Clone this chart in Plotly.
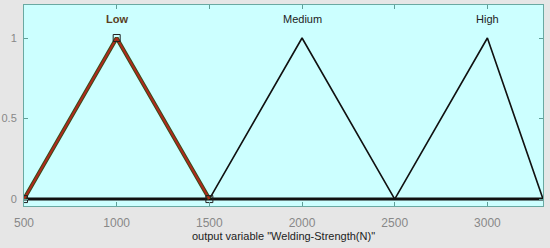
import plotly.graph_objects as go

# membership functions of output variable
mf_names = ["Low", "Medium", "High"]
low_x = [500, 1000, 1500]
low_y = [0, 1, 0]
medium_x = [1500, 2000, 2500]
medium_y = [0, 1, 0]
high_x = [2500, 3000, 3300]
high_y = [0, 1, 0]
x_ticks = [500, 1000, 1500, 2000, 2500, 3000]
y_ticks = [0, 0.5, 1]

fig = go.Figure()

# baseline
fig.add_trace(go.Scatter(x=[500, 3300], y=[0, 0], mode="lines",
                         line=dict(color="#111111", width=3), hoverinfo="skip"))

fig.add_trace(go.Scatter(x=medium_x, y=medium_y, mode="lines",
                         line=dict(color="#111111", width=1.6)))
fig.add_trace(go.Scatter(x=high_x, y=high_y, mode="lines",
                         line=dict(color="#111111", width=1.6)))

# selected MF (Low): dark outline + red core + square handles
fig.add_trace(go.Scatter(x=low_x, y=low_y, mode="lines",
                         line=dict(color="#3b4a1a", width=4)))
fig.add_trace(go.Scatter(x=low_x, y=low_y, mode="lines+markers",
                         line=dict(color="#b02a1c", width=2),
                         marker=dict(symbol="square-open", size=7, color="#222222",
                                     line=dict(width=1))))

# labels above peaks
peaks = [low_x[1], medium_x[1], high_x[1]]
label_colors = ["#5a3e1e", "#222222", "#222222"]
label_text = ["<b>Low</b>", "Medium", "High"]
for name, px, c in zip(label_text, peaks, label_colors):
    fig.add_annotation(x=px, y=1.12, text=name, showarrow=False,
                       font=dict(size=11, color=c, family="Arial"))

fig.update_layout(
    width=550, height=248,
    margin=dict(l=24, r=7, t=5, b=42),
    paper_bgcolor="#e6e6e6",
    plot_bgcolor="#ccffff",
    showlegend=False,
    font=dict(family="Arial", size=11, color="#888888"),
)
fig.update_xaxes(
    range=[500, 3300], tickvals=x_ticks, ticks="inside", ticklen=4,
    tickcolor="#5f9f98", showgrid=False, zeroline=False, automargin=False,
    showline=True, linecolor="#6aa9a2", linewidth=1, mirror="ticks",
    ticklabelstandoff=6,
    tickfont=dict(size=12, color="#888888"),
    title=dict(text='output variable "Welding-Strength(N)"', standoff=1,
               font=dict(size=11, color="#222222")),
)
fig.update_yaxes(
    range=[-0.043, 1.205], tickvals=y_ticks, ticktext=["0", "0.5", "1"],
    ticks="inside", ticklen=4, tickcolor="#5f9f98", automargin=False,
    showgrid=False, zeroline=False, ticklabelstandoff=4,
    showline=True, linecolor="#6aa9a2", linewidth=1, mirror="ticks",
    tickfont=dict(size=11, color="#888888"),
)

# page has a default body margin; remove it so the figure sits at 0,0
fig.write_html("out.html", config={"displayModeBar": False},
               post_script="document.body.style.margin='0';")
